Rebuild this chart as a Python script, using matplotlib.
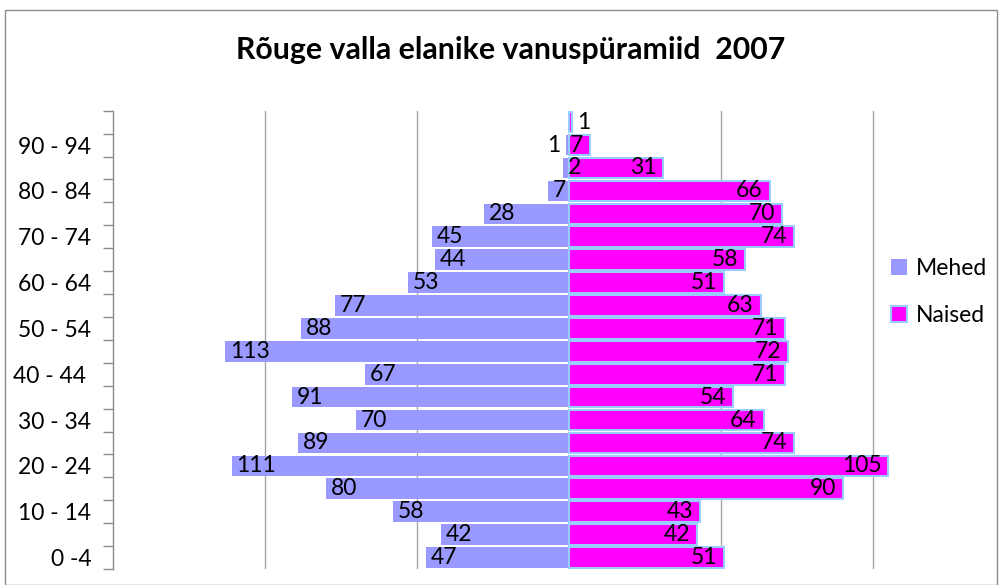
import matplotlib
matplotlib.use("Agg")
import matplotlib.pyplot as plt
from matplotlib.patches import Rectangle, Patch
import numpy as np

age_groups = ["0 -4", "5 - 9", "10 - 14", "15 - 19", "20 - 24", "25 - 29", "30 - 34",
              "35 - 39", "40 - 44 ", "45 - 49", "50 - 54", "55 - 59", "60 - 64",
              "65 - 69", "70 - 74", "75 - 79", "80 - 84", "85 - 89", "90 - 94", "95 - 99"]
mehed = [47, 42, 58, 80, 111, 89, 70, 91, 67, 113, 88, 77, 53, 44, 45, 28, 7, 2, 1, 0]
naised = [51, 42, 43, 90, 105, 74, 64, 54, 71, 72, 71, 63, 51, 58, 74, 70, 66, 31, 7, 1]
title = "Rõuge valla elanike vanuspüramiid  2007"

plt.rcParams['font.family'] = ['Lato', 'DejaVu Sans']

W, H = 1000, 585
fig = plt.figure(figsize=(W / 100, H / 100), dpi=100)

# chart frame
fig.patches.append(Rectangle((4.5 / W, 0.5 / H), 992.5 / W, (H - 10.5) / H, transform=fig.transFigure,
                             fill=False, edgecolor="#8c8c8c", linewidth=1.0))

ax = fig.add_axes([113 / W, (H - 569) / H, 912 / W, (569 - 110.7) / H])
ax.set_facecolor("none")
y = np.arange(len(age_groups))

men_color = "#9999FF"
women_color = "#FF00FF"
women_edge = "#99CCFF"

ax.barh(y, [-v for v in mehed], height=0.9, color=men_color, edgecolor="none", zorder=2)
ax.barh(y, naised, height=0.9, color=women_color, edgecolor=women_edge, linewidth=1.5, zorder=3)

fs = 16.5
for yi, v in zip(y, mehed):
    if v <= 0:
        continue
    if v < 2:
        ax.annotate(str(v), (-v, yi), xytext=(-4, 0), textcoords="offset points",
                    ha="right", va="center", fontsize=fs, zorder=5)
    else:
        ax.annotate(str(v), (-v, yi), xytext=(3.5, 0), textcoords="offset points",
                    ha="left", va="center", fontsize=fs, zorder=5)
for yi, v in zip(y, naised):
    if v <= 0:
        continue
    if v < 2:
        ax.annotate(str(v), (v, yi), xytext=(4, 0), textcoords="offset points",
                    ha="left", va="center", fontsize=fs, zorder=5)
    else:
        ax.annotate(str(v), (v, yi), xytext=(-5, 0), textcoords="offset points",
                    ha="right", va="center", fontsize=fs, zorder=5)

ax.set_xlim(-150, 150)
ax.set_ylim(-0.5, len(age_groups) - 0.5)

for gx in [-100, -50, 50, 100]:
    ax.axvline(gx, color="#a6a6a6", linewidth=1.0, zorder=1)

for s in ["top", "right", "bottom"]:
    ax.spines[s].set_visible(False)
ax.spines["left"].set_color("#8c8c8c")
ax.spines["left"].set_linewidth(1.0)
ax.set_xticks([])

ax.set_yticks(y[::2])
ax.set_yticklabels(age_groups[::2], fontsize=fs)
ax.tick_params(axis="y", which="major", length=0, pad=15.5)
ax.set_yticks(np.arange(-0.5, len(age_groups), 1.0), minor=True)
ax.tick_params(axis="y", which="minor", length=7, width=1.0, color="#8c8c8c")

fig.text(511 / W, 1 - 50 / H, title, ha="center", va="center", fontsize=21.8, fontweight="bold")

handles = [Patch(facecolor=men_color, edgecolor="none", label="Mehed"),
           Patch(facecolor=women_color, edgecolor=women_edge, linewidth=1.5, label="Naised")]
fig.legend(handles=handles, loc="center left", bbox_to_anchor=(870 / W, 1 - 292 / H),
           frameon=False, fontsize=fs, handlelength=0.7, handleheight=0.7,
           handletextpad=0.4, labelspacing=1.15)

fig.savefig("out.png", dpi=100)
